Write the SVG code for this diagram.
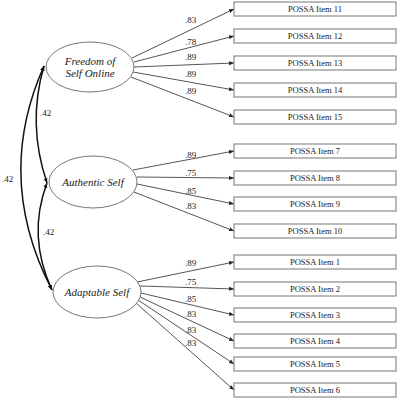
<svg xmlns="http://www.w3.org/2000/svg" width="400" height="400" viewBox="0 0 400 400">
<defs>
<style>
.box{fill:#fff;stroke:#777;stroke-width:1}
.lat{fill:#fff;stroke:#777;stroke-width:1}
.bt{font-family:"Liberation Serif",serif;font-size:8.5px;fill:#222;text-anchor:middle}
.lt{font-family:"Liberation Serif",serif;font-style:italic;font-size:11px;fill:#222;text-anchor:middle}
.num{font-family:"Liberation Serif",serif;font-size:9px;fill:#222}
.ld{stroke:#555;stroke-width:1;fill:none;marker-end:url(#ah)}
.cov{stroke:#111;stroke-width:1.5;fill:none;marker-start:url(#ch);marker-end:url(#ch)}
</style>
<marker id="ah" viewBox="0 0 10 10" refX="10" refY="5" markerWidth="5" markerHeight="5" orient="auto" markerUnits="userSpaceOnUse"><path d="M0,1 L10,5 L0,9 Z" fill="#222"/></marker>
<marker id="ch" viewBox="0 0 10 10" refX="10" refY="5" markerWidth="5" markerHeight="5" orient="auto-start-reverse" markerUnits="userSpaceOnUse"><path d="M0,1 L10,5 L0,9 Z" fill="#111"/></marker>
</defs>
<rect width="400" height="400" fill="#fff"/>
<g id="connectors">
<path class="ld" d="M132,58 L234,9"/>
<path class="ld" d="M134,62 L234,36"/>
<path class="ld" d="M134,67 L234,63"/>
<path class="ld" d="M133,72 L234,90"/>
<path class="ld" d="M131,77 L234,117"/>
<path class="ld" d="M133,170 L234,151"/>
<path class="ld" d="M137,177 L234,178"/>
<path class="ld" d="M137,184 L234,204"/>
<path class="ld" d="M134,192 L234,231"/>
<path class="ld" d="M137,282 L234,262"/>
<path class="ld" d="M140,286 L234,289"/>
<path class="ld" d="M141,293 L234,315"/>
<path class="ld" d="M140,297 L234,341"/>
<path class="ld" d="M138,300 L234,364"/>
<path class="ld" d="M136,303 L234,390"/>
<path class="cov" d="M44,66 Q-6,178 52,290"/>
<path class="cov" d="M44,66 Q27,124 47,183"/>
<path class="cov" d="M47,183 Q27,236 52,290"/>
<text class="num" x="185" y="23">.83</text>
<text class="num" x="185" y="45">.78</text>
<text class="num" x="185" y="60">.89</text>
<text class="num" x="185" y="77">.89</text>
<text class="num" x="185" y="94">.89</text>
<text class="num" x="185" y="158">.89</text>
<text class="num" x="185" y="176">.75</text>
<text class="num" x="185" y="194">.85</text>
<text class="num" x="185" y="209">.83</text>
<text class="num" x="185" y="266">.89</text>
<text class="num" x="185" y="285">.75</text>
<text class="num" x="185" y="302">.85</text>
<text class="num" x="185" y="317">.83</text>
<text class="num" x="185" y="333">.83</text>
<text class="num" x="185" y="346">.83</text>
<text class="num" x="2" y="182">.42</text>
<text class="num" x="40" y="116">.42</text>
<text class="num" x="43" y="235">.42</text>
</g>
<g id="freedom"><ellipse class="lat" cx="90" cy="67" rx="44" ry="25"/><text class="lt" x="90" y="65">Freedom of</text><text class="lt" x="90" y="77">Self Online</text></g>
<g id="authentic"><ellipse class="lat" cx="93" cy="182" rx="44" ry="26"/><text class="lt" x="93" y="186">Authentic Self</text></g>
<g id="adaptable"><ellipse class="lat" cx="97" cy="292" rx="44" ry="26"/><text class="lt" x="97" y="296">Adaptable Self</text></g>
<g id="item11"><rect class="box" x="234" y="2" width="162" height="14"/><text class="bt" x="315" y="12">POSSA Item 11</text></g>
<g id="item12"><rect class="box" x="234" y="29" width="162" height="14"/><text class="bt" x="315" y="39">POSSA Item 12</text></g>
<g id="item13"><rect class="box" x="234" y="56" width="162" height="14"/><text class="bt" x="315" y="66">POSSA Item 13</text></g>
<g id="item14"><rect class="box" x="234" y="83" width="162" height="14"/><text class="bt" x="315" y="93">POSSA Item 14</text></g>
<g id="item15"><rect class="box" x="234" y="110" width="162" height="14"/><text class="bt" x="315" y="120">POSSA Item 15</text></g>
<g id="item7"><rect class="box" x="234" y="144" width="162" height="14"/><text class="bt" x="315" y="154">POSSA Item 7</text></g>
<g id="item8"><rect class="box" x="234" y="171" width="162" height="14"/><text class="bt" x="315" y="181">POSSA Item 8</text></g>
<g id="item9"><rect class="box" x="234" y="197" width="162" height="14"/><text class="bt" x="315" y="207">POSSA Item 9</text></g>
<g id="item10"><rect class="box" x="234" y="224" width="162" height="14"/><text class="bt" x="315" y="234">POSSA Item 10</text></g>
<g id="item1"><rect class="box" x="234" y="255" width="162" height="14"/><text class="bt" x="315" y="265">POSSA Item 1</text></g>
<g id="item2"><rect class="box" x="234" y="282" width="162" height="14"/><text class="bt" x="315" y="292">POSSA Item 2</text></g>
<g id="item3"><rect class="box" x="234" y="308" width="162" height="14"/><text class="bt" x="315" y="318">POSSA Item 3</text></g>
<g id="item4"><rect class="box" x="234" y="334" width="162" height="14"/><text class="bt" x="315" y="344">POSSA Item 4</text></g>
<g id="item5"><rect class="box" x="234" y="357" width="162" height="14"/><text class="bt" x="315" y="367">POSSA Item 5</text></g>
<g id="item6"><rect class="box" x="234" y="383" width="162" height="14"/><text class="bt" x="315" y="393">POSSA Item 6</text></g>
</svg>
